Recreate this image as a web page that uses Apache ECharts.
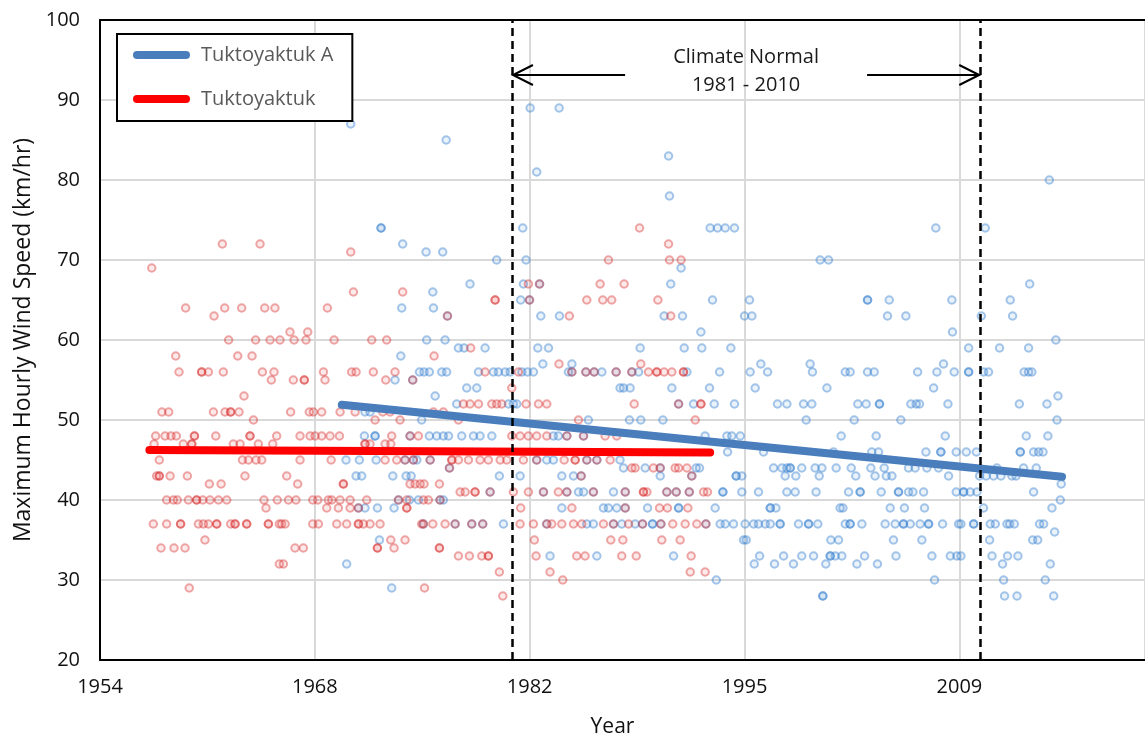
<!DOCTYPE html>
<html>
<head>
<meta charset="utf-8">
<title>Tuktoyaktuk maximum hourly wind speed</title>
<script src="https://cdn.jsdelivr.net/npm/echarts/dist/echarts.min.js"></script>
<style>
  html, body { margin: 0; padding: 0; background: #fff; }
  #chart { width: 1145px; height: 738px; }
</style>
</head>
<body>
<div id="chart"></div>
<script>
// Monthly maximum hourly wind speed (km/h), as [decimal year, value].
// Tuktoyaktuk (older station)
const tuk1958_1966 = [
  [1958.05,69],[1962.55,72],[1964.95,72],[1960.21,64],[1962.02,63],[1962.70,64],[1963.78,64],[1965.25,64],[1965.90,64],
  [1962.95,60],[1964.67,60],[1965.59,60],[1966.22,60],[1959.58,58],[1963.53,58],[1964.44,58],[1959.79,56],[1961.23,56],
  [1961.23,56],[1961.66,56],[1962.61,56],[1965.10,56],[1965.84,56],[1965.67,55],[1963.93,53],[1958.70,51],[1959.13,51],
  [1961.98,51],[1962.72,51],[1963.08,51],[1963.08,51],[1963.61,51],[1964.53,50],[1958.30,48],[1958.90,48],[1959.28,48],
  [1959.62,48],[1960.77,48],[1960.77,48],[1962.13,48],[1964.31,48],[1964.31,48],[1966.01,48],[1958.20,47],[1960.06,47],
  [1960.60,47],[1960.60,47],[1963.25,47],[1963.68,47],[1964.84,47],[1965.76,47],[1958.53,45],[1963.83,45],[1964.21,45],
  [1964.70,45],[1965.06,45],[1958.36,43],[1958.53,43],[1958.53,43],[1959.22,43],[1960.32,43],[1963.99,43],[1961.72,42],
  [1962.47,42],[1959.00,40],[1959.43,40],[1959.68,40],[1960.38,40],[1960.91,40],[1960.91,40],[1961.30,40],[1961.76,40],
  [1962.30,40],[1962.83,40],[1965.20,40],[1966.05,40],[1965.33,39],[1958.15,37],[1959.00,37],[1959.89,37],[1959.89,37],
  [1961.02,37],[1961.34,37],[1961.66,37],[1962.19,37],[1962.19,37],[1963.08,37],[1963.36,37],[1963.36,37],[1964.10,37],
  [1964.10,37],[1965.48,37],[1965.48,37],[1966.18,37],[1961.44,35],[1958.64,34],[1959.47,34],[1960.17,34],[1966.18,32],
  [1960.44,29]
];
const tuk1966_1977 = [
  [1970.73,71],[1970.90,66],[1974.04,66],[1969.24,64],[1966.86,61],[1967.99,61],[1967.12,60],[1967.88,60],[1969.67,60],
  [1972.07,60],[1973.02,60],[1976.04,58],[1968.99,56],[1970.79,56],[1971.07,56],[1972.17,56],[1973.55,56],[1967.07,55],
  [1967.77,55],[1967.77,55],[1969.09,55],[1972.96,55],[1974.68,55],[1966.90,51],[1968.09,51],[1968.35,51],[1968.88,51],
  [1970.05,51],[1971.01,51],[1972.77,51],[1973.24,51],[1976.00,51],[1976.63,51],[1972.28,50],[1973.87,50],[1967.50,48],
  [1968.14,48],[1968.46,48],[1968.88,48],[1969.41,48],[1970.01,48],[1973.34,48],[1974.51,48],[1975.04,48],[1971.64,47],
  [1971.64,47],[1971.96,47],[1972.92,47],[1973.28,47],[1967.50,45],[1969.48,45],[1972.92,45],[1973.66,45],[1974.19,45],
  [1974.72,45],[1975.79,45],[1977.02,44],[1966.65,43],[1967.35,42],[1970.26,42],[1970.26,42],[1974.51,42],[1974.83,42],
  [1975.15,42],[1975.40,42],[1976.38,42],[1966.76,40],[1967.24,40],[1968.31,40],[1968.63,40],[1969.30,40],[1969.52,40],
  [1970.05,40],[1970.69,40],[1971.75,40],[1973.77,40],[1974.30,40],[1975.36,40],[1975.68,40],[1976.42,40],[1969.20,39],
  [1969.94,39],[1970.69,39],[1971.22,39],[1974.30,39],[1974.30,39],[1966.33,37],[1966.55,37],[1968.31,37],[1968.67,37],
  [1969.84,37],[1970.47,37],[1971.22,37],[1971.22,37],[1971.54,37],[1971.96,37],[1972.60,37],[1975.25,37],[1975.36,37],
  [1975.96,37],[1976.74,37],[1973.28,35],[1974.19,35],[1967.18,34],[1967.71,34],[1972.43,34],[1972.43,34],[1973.49,34],
  [1976.38,34],[1976.38,34],[1966.44,32],[1975.43,29],[1976.89,63]
];
const tuk1977_1988 = [
  [1987.15,70],[1986.62,67],[1982.05,67],[1982.76,67],[1985.77,65],[1986.79,65],[1987.36,65],[1979.93,65],[1979.93,65],
  [1982.12,65],[1984.66,63],[1978.37,59],[1984.00,57],[1979.29,56],[1981.41,56],[1984.82,56],[1985.71,56],[1986.24,56],
  [1987.64,56],[1980.99,54],[1977.91,52],[1978.33,52],[1978.87,52],[1979.72,52],[1980.03,52],[1980.35,52],[1981.90,52],
  [1982.69,52],[1983.22,52],[1977.59,50],[1985.24,50],[1980.99,48],[1981.52,48],[1982.05,48],[1982.58,48],[1983.22,48],
  [1984.50,48],[1985.56,48],[1986.94,48],[1987.68,48],[1977.17,45],[1977.17,45],[1977.59,45],[1978.23,45],[1978.97,45],
  [1979.50,45],[1980.25,45],[1980.67,45],[1981.73,45],[1982.58,45],[1984.33,45],[1985.03,45],[1985.03,45],[1985.77,45],
  [1986.41,45],[1987.26,45],[1985.41,43],[1977.70,41],[1978.02,41],[1978.65,41],[1978.65,41],[1979.61,41],[1981.09,41],
  [1982.05,41],[1983.01,41],[1983.96,41],[1984.50,41],[1986.19,41],[1981.56,39],[1984.82,39],[1977.38,37],[1978.44,37],
  [1979.14,37],[1981.52,37],[1982.37,37],[1983.22,37],[1983.54,37],[1984.18,37],[1984.92,37],[1985.45,37],[1986.83,37],
  [1987.47,37],[1982.43,35],[1987.30,35],[1977.59,33],[1978.29,33],[1979.08,33],[1979.50,33],[1979.50,33],[1982.54,33],
  [1985.13,33],[1985.66,33],[1980.20,31],[1983.43,31],[1984.24,30],[1980.42,28]
];
const tuk1988_1994 = [
  [1989.13,74],[1990.98,72],[1991.04,70],[1991.78,70],[1988.15,67],[1990.30,65],[1991.12,63],[1989.21,57],[1989.70,56],
  [1990.23,56],[1990.23,56],[1990.70,56],[1991.19,56],[1991.93,56],[1991.93,56],[1988.64,56],[1988.79,52],[1991.62,52],
  [1993.04,52],[1993.04,52],[1992.68,50],[1988.64,44],[1988.85,44],[1990.02,44],[1990.45,44],[1991.40,44],[1991.62,44],
  [1992.15,44],[1992.46,43],[1988.22,41],[1989.38,41],[1989.38,41],[1989.60,41],[1990.87,41],[1991.47,41],[1992.30,41],
  [1993.21,41],[1993.46,41],[1988.22,39],[1990.40,39],[1990.91,39],[1992.21,39],[1988.43,37],[1989.32,37],[1990.49,37],
  [1991.25,37],[1992.04,37],[1992.78,37],[1993.36,37],[1988.07,35],[1990.55,35],[1991.72,35],[1988.00,33],[1988.92,33],
  [1992.42,33],[1992.36,31],[1993.31,31]
];

// Tuktoyaktuk A (airport station)
const tukA1970_1977 = [
  [1970.73,87],[1976.81,85],[1972.66,74],[1972.66,74],[1974.04,72],[1975.53,71],[1976.59,71],[1975.96,66],[1973.98,64],
  [1976.00,64],[1976.89,63],[1975.57,60],[1976.74,60],[1973.92,58],[1975.11,56],[1975.40,56],[1975.74,56],[1976.53,56],
  [1976.84,56],[1973.55,55],[1974.68,55],[1976.11,53],[1971.64,51],[1971.96,51],[1975.25,50],[1971.60,48],[1972.28,48],
  [1972.28,48],[1975.74,48],[1976.21,48],[1976.63,48],[1976.96,48],[1974.51,48],[1970.43,45],[1971.28,45],[1972.35,45],
  [1974.94,45],[1974.19,45],[1974.72,45],[1975.79,45],[1971.07,43],[1971.43,43],[1973.41,43],[1974.26,43],[1974.58,43],
  [1974.47,40],[1975.04,40],[1976.63,40],[1973.77,40],[1976.42,40],[1971.64,39],[1972.43,39],[1973.49,39],[1971.22,39],
  [1975.36,37],[1972.56,35],[1970.47,32],[1973.34,29],[1977.02,44]
];
const tukA1977_1988 = [
  [1982.16,89],[1984.01,89],[1982.58,81],[1981.69,74],[1980.03,70],[1981.90,70],[1978.33,67],[1981.73,67],[1982.76,67],
  [1981.56,65],[1982.12,65],[1982.84,63],[1984.03,63],[1977.59,59],[1977.95,59],[1979.29,59],[1982.65,59],[1983.33,59],
  [1982.97,57],[1984.82,57],[1978.87,56],[1979.82,56],[1980.14,56],[1980.57,56],[1980.89,56],[1981.63,56],[1981.99,56],
  [1982.37,56],[1984.82,56],[1985.71,56],[1986.24,56],[1986.73,56],[1987.64,56],[1984.60,56],[1978.12,54],[1978.76,54],
  [1987.89,54],[1977.48,52],[1980.78,52],[1981.09,52],[1981.31,52],[1985.87,50],[1977.80,48],[1978.55,48],[1978.97,48],
  [1979.72,48],[1983.64,48],[1983.96,48],[1984.50,48],[1985.56,48],[1982.58,45],[1983.22,45],[1983.64,45],[1985.77,45],
  [1986.41,45],[1987.89,45],[1980.20,43],[1981.52,43],[1984.18,43],[1984.92,43],[1985.41,43],[1979.61,41],[1983.01,41],
  [1984.50,41],[1985.24,41],[1985.56,41],[1986.19,41],[1987.47,41],[1984.18,39],[1986.83,39],[1987.15,39],[1987.68,39],
  [1977.38,37],[1978.44,37],[1979.14,37],[1980.46,37],[1983.22,37],[1985.77,37],[1986.19,37],[1987.47,37],[1983.43,33],
  [1986.41,33]
];
const tukA1988_1998 = [
  [1990.98,83],[1991.04,78],[1993.63,74],[1994.10,74],[1994.59,74],[1995.18,74],[1991.78,69],[1991.12,67],[1993.78,65],
  [1996.14,65],[1990.70,63],[1991.87,63],[1995.82,63],[1996.29,63],[1993.04,61],[1989.17,59],[1991.98,59],[1993.10,59],
  [1994.95,59],[1996.86,57],[1988.64,56],[1989.07,56],[1992.15,56],[1994.23,56],[1996.18,56],[1997.29,56],[1988.11,54],
  [1988.53,54],[1991.19,54],[1993.59,54],[1996.50,54],[1991.62,52],[1992.57,52],[1993.89,52],[1995.18,52],[1997.92,52],
  [1998.52,52],[1988.49,50],[1989.21,50],[1990.62,50],[1993.31,48],[1994.70,48],[1995.01,48],[1995.55,48],[1994.74,46],
  [1997.03,46],[1988.11,44],[1989.49,44],[1990.45,44],[1992.74,44],[1992.95,44],[1997.67,44],[1998.20,44],[1998.52,44],
  [1990.45,43],[1992.46,43],[1995.29,43],[1995.29,43],[1995.65,43],[1998.41,43],[1988.22,41],[1990.87,41],[1991.47,41],
  [1992.30,41],[1994.44,41],[1994.44,41],[1995.65,41],[1996.71,41],[1998.52,41],[1988.22,39],[1989.64,39],[1991.62,39],
  [1991.62,39],[1993.95,39],[1997.46,39],[1997.46,39],[1997.82,39],[1988.00,37],[1988.85,37],[1989.32,37],[1989.96,37],
  [1989.96,37],[1990.49,37],[1993.36,37],[1994.27,37],[1994.59,37],[1995.12,37],[1995.86,37],[1996.40,37],[1996.71,37],
  [1997.14,37],[1997.46,37],[1998.09,37],[1998.09,37],[1995.76,35],[1995.93,35],[1991.30,33],[1996.78,33],[1998.31,33],
  [1996.44,32],[1997.73,32],[1994.02,30]
];
const tukA1998_2009 = [
  [2008.01,74],[2000.64,70],[2001.17,70],[2003.66,65],[2003.66,65],[2005.04,65],[2009.03,65],[2004.93,63],[2006.10,63],
  [2009.07,61],[2000.00,57],[2008.50,57],[2000.15,56],[2002.24,56],[2002.55,56],[2003.66,56],[2004.08,56],[2006.85,56],
  [2008.08,56],[2009.18,56],[2001.07,54],[2007.87,54],[1999.58,52],[2000.11,52],[2003.04,52],[2003.57,52],[2004.42,52],
  [2004.42,52],[2006.42,52],[2006.76,52],[2006.97,52],[2008.78,52],[1999.75,50],[2002.81,50],[2005.78,50],[2001.98,48],
  [2004.21,48],[2008.61,48],[2001.49,46],[2003.93,46],[2004.36,46],[2007.38,46],[2008.33,46],[2008.33,46],[2009.31,46],
  [1998.73,44],[1998.73,44],[1999.47,44],[2000.32,44],[2000.75,44],[2001.66,44],[2002.62,44],[2003.87,44],[2004.72,44],
  [2006.27,44],[2006.69,44],[2007.44,44],[2008.18,44],[1999.09,43],[2000.58,43],[2002.91,43],[2004.14,43],[2004.85,43],
  [2005.21,43],[2008.82,43],[1999.05,41],[2000.38,41],[2002.45,41],[2003.19,41],[2003.19,41],[2004.53,41],[2005.63,41],
  [2005.63,41],[2006.27,41],[2006.55,41],[2007.23,41],[2009.31,41],[2001.91,39],[2002.09,39],[2005.10,39],[2006.01,39],
  [2007.29,39],[1999.26,37],[1999.90,37],[1999.90,37],[2000.49,37],[2002.24,37],[2002.55,37],[2002.55,37],[2003.30,37],
  [2004.78,37],[2005.42,37],[2005.95,37],[2005.95,37],[2006.38,37],[2007.01,37],[2007.55,37],[2007.55,37],[2008.44,37],
  [2009.46,37],[2001.32,35],[2001.81,35],[2005.31,35],[2007.12,35],[1999.47,33],[2000.22,33],[2001.28,33],[2001.28,33],
  [2001.60,33],[2002.02,33],[2003.47,33],[2005.47,33],[2007.76,33],[2008.93,33],[2009.35,33],[1998.94,32],[2001.00,32],
  [2002.98,32],[2004.29,32],[2007.93,30],[2000.81,28],[2000.81,28]
];
const tukA2009_2016 = [
  [2015.24,80],[2011.16,74],[2013.99,67],[2012.75,65],[2010.91,63],[2012.90,63],[2015.66,60],[2010.10,59],[2012.07,59],
  [2013.92,59],[2010.10,56],[2010.10,56],[2011.05,56],[2011.37,56],[2013.64,56],[2013.92,56],[2014.13,56],[2015.79,53],
  [2013.33,52],[2015.09,52],[2015.73,50],[2013.77,48],[2015.15,48],[2009.95,46],[2010.59,46],[2013.39,46],[2013.39,46],
  [2014.24,46],[2014.56,46],[2014.84,46],[2011.90,44],[2013.60,44],[2014.41,44],[2010.80,43],[2011.22,43],[2011.69,43],
  [2012.16,43],[2012.86,43],[2013.12,43],[2016.00,42],[2009.78,41],[2009.78,41],[2010.20,41],[2010.63,41],[2014.24,41],
  [2015.94,40],[2011.05,39],[2015.41,39],[2009.61,37],[2010.42,37],[2010.42,37],[2011.48,37],[2011.80,37],[2012.54,37],
  [2012.71,37],[2013.01,37],[2014.62,37],[2014.88,37],[2015.58,36],[2011.44,35],[2014.18,35],[2014.50,35],[2009.61,33],
  [2011.59,33],[2012.58,33],[2013.24,33],[2012.26,32],[2015.30,32],[2012.33,30],[2014.98,30],[2012.39,28],[2013.18,28],
  [2015.52,28]
];

// Linear trend end points [decimal year, km/h]
const trendTukA = [[1970.16, 51.9], [2016.05, 42.9]];
const trendTuk = [[1957.90, 46.25], [1993.63, 45.95]];

// 1981-2010 climate normal period bounds (decimal years)
const normalPeriod = [1981.0, 2010.84];

// Axis settings (x in spreadsheet day serials, ticks every 5000 days)
const xMin = 20000, xMax = 44320, xStep = 5000;
const yMin = 20, yMax = 100, yStep = 10;

const FONT = '"Open Sans", "Noto Sans", sans-serif';
const EPOCH = Date.UTC(1899, 11, 30);
const DAY = 86400000;

function toSerial(yr) {
  const y = Math.floor(yr);
  const start = Date.UTC(y, 0, 1), end = Date.UTC(y + 1, 0, 1);
  return (start + (yr - y) * (end - start) - EPOCH) / DAY;
}
function serialYear(s) {
  return String(new Date(EPOCH + s * DAY).getUTCFullYear());
}
const toXY = (arr) => arr.map(p => [toSerial(p[0]), p[1]]);

const tukData = toXY([].concat(tuk1958_1966, tuk1966_1977, tuk1977_1988, tuk1988_1994));
const tukAData = toXY([].concat(tukA1970_1977, tukA1977_1988, tukA1988_1998, tukA1998_2009, tukA2009_2016));

const LEGEND_ICON = 'path://M4,0L53,0A4,4,0,0,1,53,8L4,8A4,4,0,0,1,4,0Z';
const BLUE_LINE = '#4a7dbc';
const RED_LINE = '#ff0000';

const chart = echarts.init(document.getElementById('chart'), null, { renderer: 'canvas' });

const option = {
  animation: false,
  backgroundColor: '#ffffff',
  textStyle: { fontFamily: FONT },
  grid: { left: 100, top: 20, bottom: 78, right: 0, show: false, containLabel: false, outerBoundsMode: 'none' },
  legend: {
    data: [
      { name: 'Tuktoyaktuk A', icon: LEGEND_ICON },
      { name: 'Tuktoyaktuk', icon: LEGEND_ICON }
    ],
    orient: 'vertical',
    left: 117, top: 34,
    itemWidth: 57, itemHeight: 8, itemGap: 20,
    padding: [9, 19, 10, 16],
    backgroundColor: '#fff', borderColor: '#000', borderWidth: 2,
    selectedMode: false,
    textStyle: { fontFamily: FONT, fontSize: 20, color: '#595959', lineHeight: 24, padding: [0, 0, 0, 6] }
  },
  xAxis: [
    {
      type: 'value', position: 'bottom',
      min: xMin, max: xMax, interval: xStep,
      name: 'Year', nameLocation: 'middle', nameGap: 57,
      nameTextStyle: { fontFamily: FONT, fontSize: 21, color: '#111', padding: [0, 20, 0, 0] },
      axisLine: { show: true, onZero: false, lineStyle: { color: '#000', width: 2 } },
      axisTick: { show: false },
      axisLabel: { formatter: serialYear, fontFamily: FONT, fontSize: 20, color: '#111', margin: 17, showMaxLabel: false },
      splitLine: { show: true, lineStyle: { color: '#d9d9d9', width: 2 } }
    },
    {
      // plain frame line along the top of the plot
      type: 'value', position: 'top',
      min: xMin, max: xMax, interval: xStep,
      axisLine: { show: true, onZero: false, lineStyle: { color: '#000', width: 2 } },
      axisTick: { show: false }, axisLabel: { show: false }, splitLine: { show: false }
    }
  ],
  yAxis: {
    type: 'value',
    min: yMin, max: yMax, interval: yStep,
    name: 'Maximum Hourly Wind Speed (km/hr)', nameLocation: 'middle', nameGap: 64,
    nameTextStyle: { fontFamily: FONT, fontSize: 23, color: '#111' },
    axisLine: { show: true, lineStyle: { color: '#000', width: 2 } },
    axisTick: { show: false },
    axisLabel: { fontFamily: FONT, fontSize: 20, color: '#111', margin: 20 },
    splitLine: { show: true, lineStyle: { color: '#d9d9d9', width: 2 } }
  },
  series: [
    {
      name: 'Tuktoyaktuk A monthly', type: 'scatter', data: tukAData, silent: true,
      symbol: 'circle', symbolSize: 7.5, z: 2,
      itemStyle: { color: 'rgba(91,155,213,0.16)', borderColor: 'rgba(55,128,208,0.55)', borderWidth: 2 }
    },
    {
      name: 'Tuktoyaktuk monthly', type: 'scatter', data: tukData, silent: true,
      symbol: 'circle', symbolSize: 7.5, z: 3,
      itemStyle: { color: 'rgba(230,70,70,0.14)', borderColor: 'rgba(215,40,40,0.5)', borderWidth: 2 }
    },
    {
      name: 'Tuktoyaktuk', type: 'line', data: toXY(trendTuk), showSymbol: false, silent: true, z: 5,
      color: RED_LINE,
      lineStyle: { color: RED_LINE, width: 8, cap: 'round' }
    },
    {
      name: 'Tuktoyaktuk A', type: 'line', data: toXY(trendTukA), showSymbol: false, silent: true, z: 6,
      color: BLUE_LINE,
      lineStyle: { color: BLUE_LINE, width: 8, cap: 'round' },
      markLine: {
        silent: true, symbol: 'none', z: 7,
        label: { show: false },
        lineStyle: { color: '#000', width: 2.5, type: [8, 5] },
        data: normalPeriod.map(y => ({ xAxis: toSerial(y) }))
      }
    }
  ]
};

chart.setOption(option);

// "Climate Normal" annotation with arrows pointing to the period bounds
(function drawNormalLabel() {
  const xs = normalPeriod.map(y => chart.convertToPixel({ gridIndex: 0 }, [toSerial(y), yMax])[0]);
  const top = chart.convertToPixel({ gridIndex: 0 }, [xMin, yMax])[1];
  const mid = (xs[0] + xs[1]) / 2;
  const arrowY = top + 55;
  const half = 121;
  const head = (tipX, dir) => [[tipX + dir * 20, arrowY - 10], [tipX, arrowY], [tipX + dir * 20, arrowY + 10]];
  const stroke = { stroke: '#000', lineWidth: 2, fill: null };
  chart.setOption({
    graphic: [
      { type: 'text', z: 20, x: mid, y: top + 51, style: {
          text: 'Climate Normal\n1981 - 2010', fill: '#1a1a1a', font: '20px ' + FONT,
          textAlign: 'center', textVerticalAlign: 'middle', lineHeight: 28 } },
      { type: 'polyline', z: 20, shape: { points: [[mid - half, arrowY], [xs[0] + 1, arrowY]] }, style: stroke },
      { type: 'polyline', z: 20, shape: { points: head(xs[0] + 1, 1) }, style: stroke },
      { type: 'polyline', z: 20, shape: { points: [[mid + half, arrowY], [xs[1] - 1, arrowY]] }, style: stroke },
      { type: 'polyline', z: 20, shape: { points: head(xs[1] - 1, -1) }, style: stroke }
    ]
  });
})();
</script>
</body>
</html>
